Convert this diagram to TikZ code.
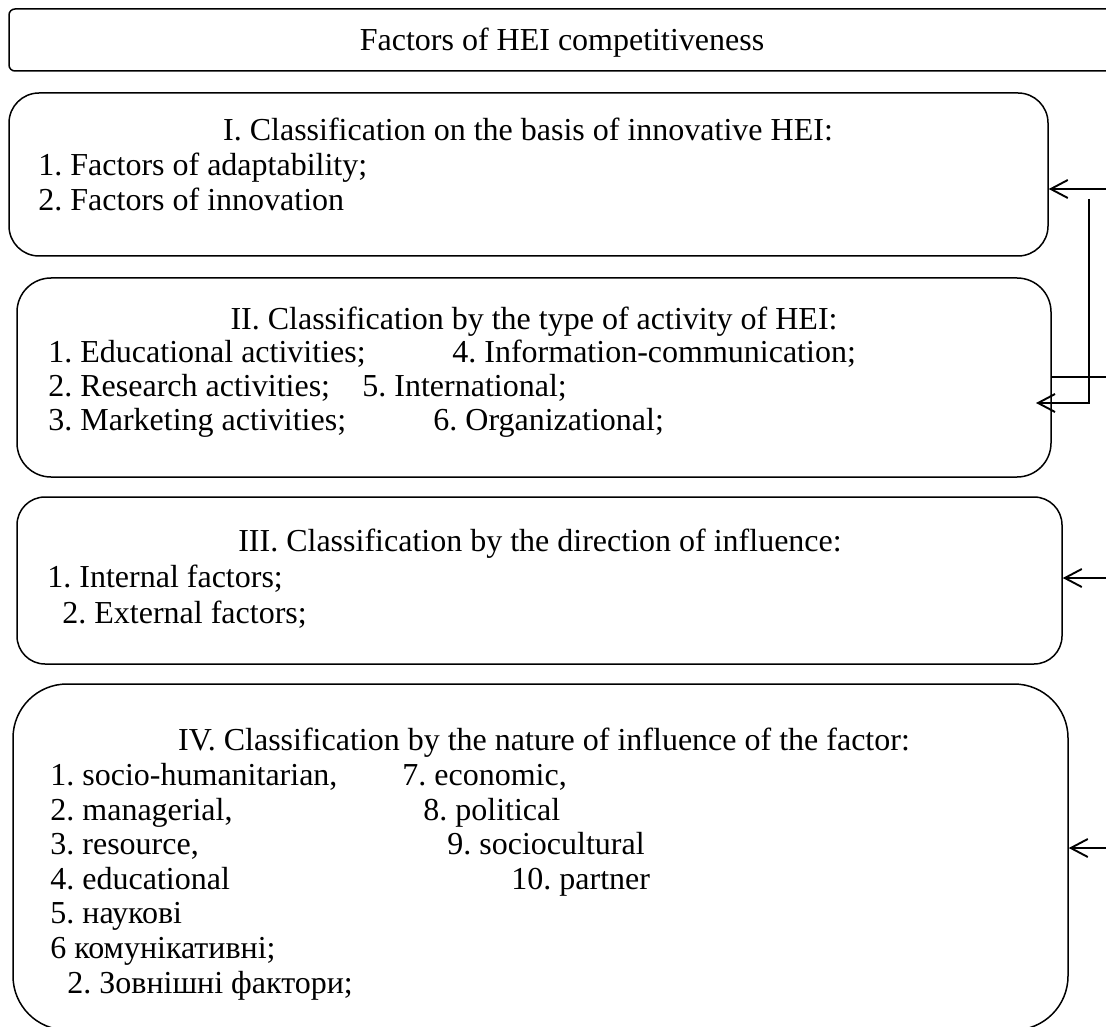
\documentclass[tikz,border=0pt]{standalone}
\usepackage{fontspec}
\setmainfont{Liberation Serif}
\usetikzlibrary{arrows.meta,fit}
\frenchspacing
\begin{document}
\begin{tikzpicture}[x=0.5pt,y=-0.5pt,
  box/.style={draw=black, line width=0.75pt, inner sep=0pt},
  txt/.style={anchor=base west, inner sep=0pt, font=\fontsize{16}{18.4}\selectfont},
  ctxt/.style={anchor=base, inner sep=0pt, font=\fontsize{16}{18.4}\selectfont},
  link/.style={draw=black, line width=0.95pt},
  arr/.style={link, -{Straight Barb[length=8.5pt,width=9pt,line width=0.95pt]}}
]
\useasboundingbox (0,0) rectangle (1106,1026);

% frames
\node[box, rounded corners=3pt,  fit={(9,9) (1116,71)}]     (top) {};
\node[box, rounded corners=15pt, fit={(9,93) (1048,256)}]   (b1) {};
\node[box, rounded corners=17pt, fit={(17,278) (1051,477)}] (b2) {};
\node[box, rounded corners=14pt, fit={(17,497) (1062,664)}] (b3) {};
\node[box, rounded corners=27pt, fit={(13,684) (1068,1030)}] (b4) {};

% title
\node[ctxt] (t0) at (562,51) {Factors of HEI competitiveness};

% group I
\node[ctxt] (h1)  at (528,141) {I. Classification on the basis of innovative HEI:};
\node[txt]  (i1)  at (38,176)  {1. Factors of adaptability;};
\node[txt]  (i2)  at (38,211)  {2. Factors of innovation};

% group II
\node[ctxt] (h2)  at (534,329) {II. Classification by the type of activity of HEI:};
\node[txt]  (ii1) at (48,362)  {1. Educational activities;};
\node[txt]  (ii4) at (452,362) {4. Information-communication;};
\node[txt]  (ii2) at (48,396)  {2. Research activities;};
\node[txt]  (ii5) at (362,396) {5. International;};
\node[txt]  (ii3) at (48,430)  {3. Marketing activities;};
\node[txt]  (ii6) at (433,430) {6. Organizational;};

% group III
\node[ctxt] (h3)   at (540,551) {III. Classification by the direction of influence:};
\node[txt]  (iii1) at (47,587)  {1. Internal factors;};
\node[txt]  (iii2) at (62,623)  {2. External factors;};

% group IV
\node[ctxt] (h4)   at (544,750) {IV. Classification by the nature of influence of the factor:};
\node[txt]  (iv1)  at (50,785)  {1. socio-humanitarian,};
\node[txt]  (iv7)  at (402,785) {7. economic,};
\node[txt]  (iv2)  at (50,820)  {2. managerial,};
\node[txt]  (iv8)  at (423,820) {8. political};
\node[txt]  (iv3)  at (50,854)  {3. resource,};
\node[txt]  (iv9)  at (447,854) {9. sociocultural};
\node[txt]  (iv4)  at (50,889)  {4. educational};
\node[txt]  (iv10) at (511,889) {10. partner};
\node[txt]  (iv5)  at (50,923)  {5. наукові};
\node[txt]  (iv6)  at (50,958)  {6 комунікативні;};
\node[txt]  (ivz)  at (67,993)  {2. Зовнішні фактори;};

% connectors entering from the right
\coordinate (r1) at (1112,189);
\draw[arr] (r1) -- (r1 -| b1.east);
\coordinate (v1) at (1089,199);
\coordinate (t2) at (1036,403);
\draw[arr] (v1) |- (t2);
\coordinate (r2) at (1112,377);
\draw[link] (r2) -- (r2 -| b2.east);
\coordinate (r3) at (1112,578);
\draw[arr] (r3) -- (r3 -| b3.east);
\coordinate (r4) at (1112,848);
\draw[arr] (r4) -- (r4 -| b4.east);
\end{tikzpicture}
\end{document}
